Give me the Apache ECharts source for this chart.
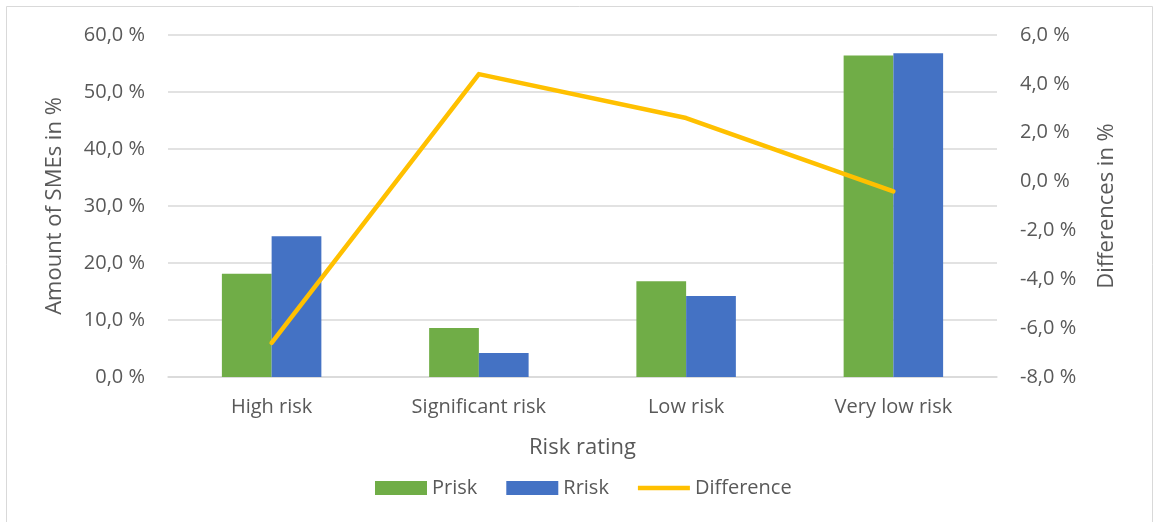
<!DOCTYPE html>
<html>
<head>
<meta charset="utf-8">
<script src="https://cdn.jsdelivr.net/npm/echarts@6/dist/echarts.min.js"></script>
<style>
  html, body { margin: 0; padding: 0; background: #fff; }
  #chart { width: 1154px; height: 522px; }
</style>
</head>
<body>
<div id="chart"></div>
<script>
// Risk rating categories
const categories = ['High risk', 'Significant risk', 'Low risk', 'Very low risk'];
// Share of SMEs per rating (%)
const prisk = [18.1, 8.6, 16.8, 56.4];
const rrisk = [24.7, 4.2, 14.2, 56.8];
// Prisk minus Rrisk (percentage points)
const difference = [-6.6, 4.4, 2.6, -0.4];
// Axis ranges
const leftAxis = { min: 0, max: 60, interval: 10 };
const rightAxis = { min: -8, max: 6, interval: 2 };

const FONT = '"Open Sans", "Noto Sans", sans-serif';
const TEXT = '#595959';
const GRID = '#D9D9D9';

const pct = v => v.toFixed(1).replace('.', ',') + ' %';

const chart = echarts.init(document.getElementById('chart'), null, { renderer: 'canvas' });
chart.setOption({
  animation: false,
  backgroundColor: '#fff',
  textStyle: { fontFamily: FONT, color: TEXT },
  graphic: [{
    type: 'rect',
    shape: { x: 6.5, y: 6.5, width: 1146, height: 540 },
    style: { fill: 'none', stroke: GRID, lineWidth: 1 },
    silent: true
  }],
  grid: { left: 168, right: 157, top: 35, bottom: 145 },
  legend: {
    bottom: 19,
    left: 370,
    itemWidth: 52,
    itemHeight: 14,
    itemGap: 29,
    textStyle: { fontFamily: FONT, fontSize: 20, color: TEXT },
    data: [
      { name: 'Prisk', icon: 'rect' },
      { name: 'Rrisk', icon: 'rect' },
      { name: 'Difference', icon: 'path://M0,0 H56 V5 H0 Z' }
    ]
  },
  xAxis: {
    type: 'category',
    data: categories,
    name: 'Risk rating',
    nameLocation: 'middle',
    nameGap: 60,
    nameTextStyle: { fontFamily: FONT, fontSize: 22, color: TEXT },
    axisLine: { show: true, lineStyle: { color: GRID, width: 1.5 } },
    axisTick: { show: false },
    axisLabel: { fontFamily: FONT, fontSize: 20, color: TEXT, margin: 20 }
  },
  yAxis: [{
    type: 'value',
    min: leftAxis.min, max: leftAxis.max, interval: leftAxis.interval,
    name: 'Amount of SMEs in %',
    nameLocation: 'middle',
    nameGap: 102,
    nameTextStyle: { fontFamily: FONT, fontSize: 22, color: TEXT },
    axisLine: { show: false },
    axisTick: { show: false },
    splitLine: { lineStyle: { color: GRID, width: 1.5 } },
    axisLabel: { fontFamily: FONT, fontSize: 20, color: TEXT, margin: 23, formatter: pct }
  }, {
    type: 'value',
    min: rightAxis.min, max: rightAxis.max, interval: rightAxis.interval,
    name: 'Differences in %',
    nameLocation: 'middle',
    nameGap: 99,
    nameTextStyle: { fontFamily: FONT, fontSize: 22, color: TEXT },
    axisLine: { show: false },
    axisTick: { show: false },
    splitLine: { show: false },
    axisLabel: { fontFamily: FONT, fontSize: 20, color: TEXT, margin: 23, formatter: pct }
  }],
  series: [{
    name: 'Prisk',
    type: 'bar',
    data: prisk,
    barGap: '0%',
    barCategoryGap: '52%',
    itemStyle: { color: '#70AD47' }
  }, {
    name: 'Rrisk',
    type: 'bar',
    data: rrisk,
    itemStyle: { color: '#4472C4' }
  }, {
    name: 'Difference',
    type: 'line',
    yAxisIndex: 1,
    data: difference,
    symbol: 'none',
    lineStyle: { color: '#FFC000', width: 4.5, cap: 'round', join: 'round' },
    itemStyle: { color: '#FFC000' }
  }]
});
</script>
</body>
</html>
